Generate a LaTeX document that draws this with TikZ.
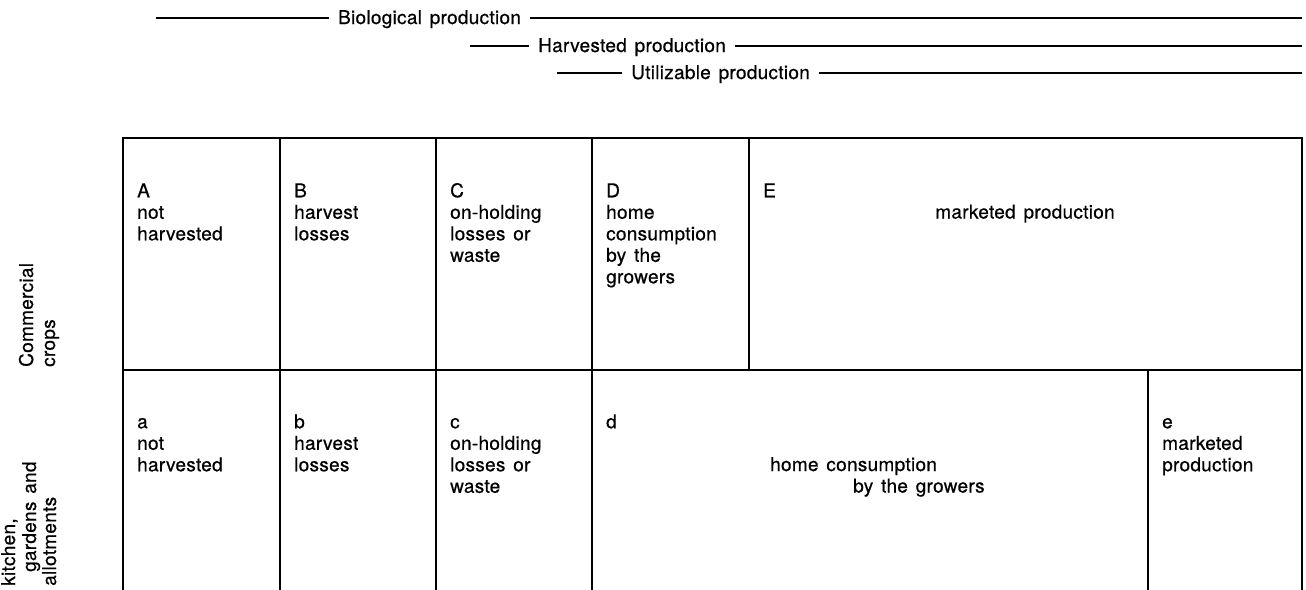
\documentclass[tikz,border=0pt]{standalone}
\usepackage{fontspec}
\setmainfont[LetterSpace=1.5,WordSpace=1.4,FakeBold=0.6]{TeX Gyre Heros}
\usetikzlibrary{positioning}

\begin{document}
\begin{tikzpicture}[x=1pt,y=-1pt,
  every node/.style={font=\fontsize{19}{21.5}\selectfont},
  cell/.style={anchor=north west, align=left, inner sep=0pt},
  heading/.style={anchor=base, inner xsep=9pt, inner ysep=0pt},
  sidelabel/.style={anchor=base west, rotate=90, inner sep=0pt},
  rule/.style={line width=1.9pt},
  prodline/.style={line width=1.5pt}]

\useasboundingbox (0,0) rectangle (1306,589);
\clip (0,0) rectangle (1306,589);

% Production levels

\node[heading] (bio) at (429.5,24) {Biological production};
\coordinate (bioL) at (156,18);
\coordinate (bioR) at (1302,18);
\draw[prodline] (bioL) -- (bioL -| bio.west);
\draw[prodline] (bioR -| bio.east) -- (bioR);

\node[heading] (harv) at (632,52) {Harvested production};
\coordinate (harvL) at (470,46);
\coordinate (harvR) at (1302,46);
\draw[prodline] (harvL) -- (harvL -| harv.west);
\draw[prodline] (harvR -| harv.east) -- (harvR);

\node[heading] (util) at (720.5,79) {Utilizable production};
\coordinate (utilL) at (557,73);
\coordinate (utilR) at (1302,73);
\draw[prodline] (utilL) -- (utilL -| util.west);
\draw[prodline] (utilR -| util.east) -- (utilR);

% Table

\draw[rule] (123,600) |- (1302,138) -- (1302,600);
\draw[rule] (123,370) -- (1302,370);
\foreach \x in {280,436,592}
  \draw[rule] (\x,138) -- (\x,600);
\draw[rule] (749,138) -- (749,370);
\draw[rule] (1148,370) -- (1148,600);

% Commercial crops

\node[cell] (cA) at (137,182) {\strut A\\not\\harvested};
\node[cell] (cB) at (294,182) {\strut B\\harvest\\losses};
\node[cell] (cC) at (450,182) {\strut C\\on-holding\\losses or\\waste};
\node[cell] (cD) at (606,182) {\strut D\\home\\consumption\\by the\\growers};
\node[cell] (cE) at (763,182) {\strut E};
\node[anchor=base, inner sep=0pt] (cEtext) at (1025,218.5) {marketed production};

% Kitchen gardens and allotments

\node[cell] (ka) at (137,413) {\strut a\\not\\harvested};
\node[cell] (kb) at (294,413) {\strut b\\harvest\\losses};
\node[cell] (kc) at (450,413) {\strut c\\on-holding\\losses or\\waste};
\node[cell] (kd) at (606,413) {\strut d};
\node[anchor=base west, inner sep=0pt] (kdtext1) at (770,471) {home consumption};
\node[anchor=base west, inner sep=0pt] (kdtext2) at (853,492.5) {by the growers};
\node[cell] (ke) at (1162,413) {\strut e\\marketed\\production};

% Row labels

\node[sidelabel] (comm1) at (33,367) {Commercial};
\node[sidelabel] (comm2) at (55,367) {crops};

\node[sidelabel] (kit1) at (15,586) {kitchen,};
\node[sidelabel] (kit2) at (36,572) {gardens and};
\node[sidelabel] (kit3) at (56,586) {allotments};

\end{tikzpicture}
\end{document}
